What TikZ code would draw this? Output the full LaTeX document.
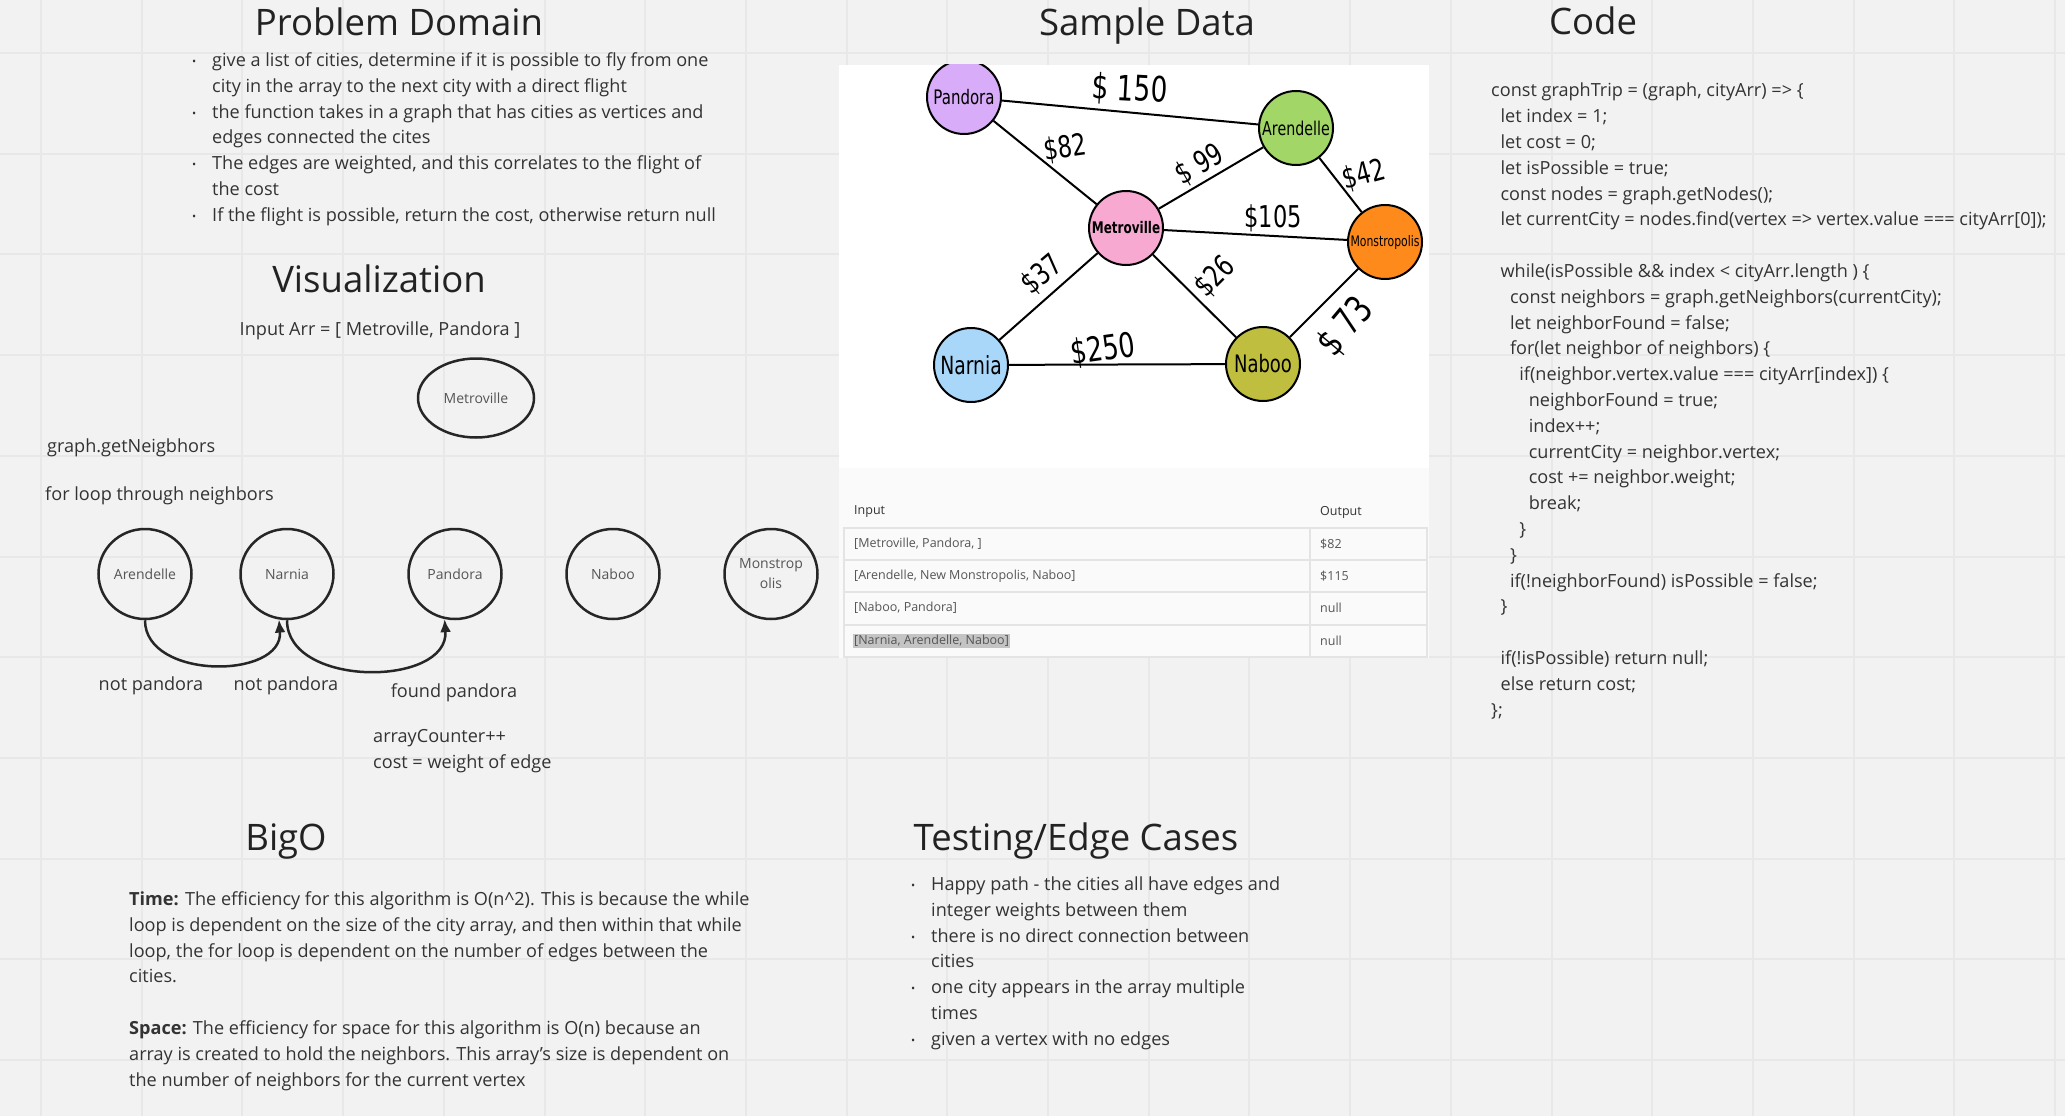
\documentclass[tikz,border=0pt]{standalone}
\usepackage{fontspec}
\setmainfont{Open Sans}
\newfontfamily\handfont{DejaVu Sans}[FakeStretch=0.75]
\usetikzlibrary{arrows.meta, positioning, shapes.geometric}

\definecolor{boardbg}{HTML}{F2F2F2}
\definecolor{gridline}{HTML}{E8E8E8}
\definecolor{ink}{HTML}{333333}
\definecolor{titleink}{HTML}{222222}
\definecolor{soft}{HTML}{555555}
\definecolor{tablebg}{HTML}{FAFAFA}
\definecolor{rulecol}{HTML}{E4E4E4}
\definecolor{marked}{HTML}{C4C4C4}
\definecolor{pandoraFill}{HTML}{D8ACF8}
\definecolor{arendelleFill}{HTML}{A2D666}
\definecolor{metroFill}{HTML}{F8A9D2}
\definecolor{monstroFill}{HTML}{FF8A1C}
\definecolor{narniaFill}{HTML}{A8D7FA}
\definecolor{nabooFill}{HTML}{BFBE3E}

\newcommand{\itembul}{\makebox[20pt][l]{\raisebox{1pt}{\fontsize{11}{11}\selectfont\textbullet}}}
\newcommand{\itemgap}{\hspace*{20pt}}
\newcommand{\codeindent}[1]{\hspace*{#1\dimexpr 9.4pt\relax}}

\begin{document}
\begin{tikzpicture}[x=1pt, y=-1pt,
    heading/.style={font=\fontsize{36.5}{44}\selectfont, text=titleink, inner sep=0pt},
    txt/.style={font=\fontsize{18.1}{25.8}\selectfont, text=ink, inner sep=0pt, align=left,
        execute at begin node=\strut, execute at end node=\strut},
    city/.style={draw=black!85, line width=2.5pt, ellipse, minimum width=93pt, minimum height=90pt,
        inner sep=0pt, font=\fontsize{14}{20}\selectfont, text=soft, align=center},
    vertex/.style={draw=black, line width=2pt, circle, minimum size=74pt, inner sep=0pt},
    edge/.style={draw=black, line width=2pt},
    cost/.style={font=\handfont\fontsize{30}{30}\selectfont, inner sep=0pt},
    cell/.style={font=\fontsize{12.5}{16}\selectfont, text=soft, inner sep=0pt, anchor=west},
    arrow/.style={-{Latex[length=13pt, width=11pt]}, line width=2.5pt, draw=black!85}
]
\useasboundingbox (0,0) rectangle (2065,1116);

% Board
\fill[boardbg] (0,0) rectangle (2065,1116);
\draw[gridline, line width=2pt, shift={(41,53)}] (-41,1063) grid[step=100.7pt] (2024,-53);

% Problem Domain
\node[heading, anchor=base] (pdTitle) at (399,36) {Problem Domain};
\node[txt, anchor=north west] (pdList) at (192,52.5) {\itembul give a list of cities, determine if it is possible to fly from one\\
\itemgap city in the array to the next city with a direct flight\\
\itembul the function takes in a graph that has cities as vertices and\\
\itemgap edges connected the cites\\
\itembul The edges are weighted, and this correlates to the flight of\\
\itemgap the cost\\
\itembul If the flight is possible, return the cost, otherwise return null};

% Visualization
\node[heading, anchor=base] (vizTitle) at (379,292) {Visualization};
\node[txt] (inputArr) at (380,330) {Input Arr = [ Metroville, Pandora ]};
\node[city, minimum width=116pt, minimum height=79pt] (vMetro) at (476,398) {Metroville};
\node[txt, anchor=west] (getNb) at (47,447) {graph.getNeigbhors};
\node[txt, anchor=west] (forLoop) at (45,495) {for loop through neighbors};

\node[city] (vArendelle) at (145,574) {Arendelle};
\node[city] (vNarnia) at (287,574) {Narnia};
\node[city] (vPandora) at (455,574) {Pandora};
\node[city] (vNaboo) at (613,574) {Naboo};
\node[city] (vMonstro) at (771,574) {Monstrop\\olis};

\draw[arrow] (vArendelle.south) .. controls +(0,60) and +(5,60) .. (vNarnia.-100);
\draw[arrow] (vNarnia.south) .. controls +(0,68) and +(5,68) .. (vPandora.-103);

\node[txt] (notA) at (151,685) {not pandora};
\node[txt] (notB) at (286,685) {not pandora};
\node[txt] (foundP) at (454,692) {found pandora};
\node[txt, anchor=north west] (counter) at (373,729) {arrayCounter++\\cost = weight of edge};

% Sample Data
\node[heading, anchor=base] (sdTitle) at (1147,36) {Sample Data};
\fill[white] (839,65) rectangle (1429,468);
\fill[tablebg] (839,468) rectangle (1429,658);

\begin{scope}
\clip (839,65) rectangle (1429,468);
\node[vertex, fill=pandoraFill, font=\handfont\fontsize{20}{20}\selectfont] (pandora) at (964,97) {Pandora};
\node[vertex, fill=arendelleFill, font=\handfont\fontsize{19}{20}\selectfont] (arendelle) at (1296,128) {Arendelle};
\node[vertex, fill=metroFill, font=\handfont\bfseries\fontsize{16}{20}\selectfont] (metroville) at (1126,228) {Metroville};
\node[vertex, fill=monstroFill, font=\handfont\fontsize{14.5}{20}\selectfont] (monstropolis) at (1385,242) {Monstropolis};
\node[vertex, fill=narniaFill, font=\handfont\fontsize{25}{25}\selectfont] (narnia) at (971,365) {Narnia};
\node[vertex, fill=nabooFill, font=\handfont\fontsize{24}{24}\selectfont] (naboo) at (1263,364) {Naboo};

\draw[edge] (pandora) -- (arendelle);
\draw[edge] (pandora) -- (metroville);
\draw[edge] (metroville) -- (arendelle);
\draw[edge] (arendelle) -- (monstropolis);
\draw[edge] (metroville) -- (monstropolis);
\draw[edge] (metroville) -- (narnia);
\draw[edge] (metroville) -- (naboo);
\draw[edge] (narnia) -- (naboo);
\draw[edge] (naboo) -- (monstropolis);

\node[cost, font=\handfont\fontsize{35}{35}\selectfont, rotate=-3] (c150) at (1130,90) {\$ 150};
\node[cost, rotate=8] (c82) at (1065,148) {\$82};
\node[cost, rotate=30] (c99) at (1200,165) {\$ 99};
\node[cost, rotate=15] (c42) at (1364,175) {\$42};
\node[cost] (c105) at (1273,218) {\$105};
\node[cost, rotate=40] (c37) at (1042,275) {\$37};
\node[cost, rotate=45] (c26) at (1215,277) {\$26};
\node[cost, font=\handfont\fontsize{34}{34}\selectfont, rotate=8] (c250) at (1103,350) {\$250};
\node[cost, font=\handfont\fontsize{38}{38}\selectfont, rotate=50] (c73) at (1346,327) {\$ 73};
\end{scope}

% Table
\node[cell, text=ink] (hIn) at (854,512) {Input};
\node[cell, text=ink] (hOut) at (1320,512) {Output};
\draw[rulecol, line width=2pt] (844,528) rectangle (1427,657);
\draw[rulecol, line width=2pt] (1310,528) -- (1310,657);
\draw[rulecol, line width=2pt] (844,560) -- (1427,560) (844,592) -- (1427,592) (844,625) -- (1427,625);
\node[cell] (r1in) at (854,544) {[Metroville, Pandora, ]};
\node[cell] (r1out) at (1320,544) {\$82};
\node[cell] (r2in) at (854,576) {[Arendelle, New Monstropolis, Naboo]};
\node[cell] (r2out) at (1320,576) {\$115};
\node[cell] (r3in) at (854,608) {[Naboo, Pandora]};
\node[cell] (r3out) at (1320,608) {null};
\node[cell, fill=marked, inner sep=1.5pt] (r4in) at (852.5,641) {[Narnia, Arendelle, Naboo]};
\node[cell] (r4out) at (1320,641) {null};

% Code
\node[heading, anchor=base] (codeTitle) at (1593,35) {Code};
\node[txt, anchor=north west] (code) at (1491,83) {const graphTrip = (graph, cityArr) => \{\\
\codeindent{1}let index = 1;\\
\codeindent{1}let cost = 0;\\
\codeindent{1}let isPossible = true;\\
\codeindent{1}const nodes = graph.getNodes();\\
\codeindent{1}let currentCity = nodes.find(vertex => vertex.value === cityArr[0]);\\
\mbox{}\\
\codeindent{1}while(isPossible \&\& index < cityArr.length ) \{\\
\codeindent{2}const neighbors = graph.getNeighbors(currentCity);\\
\codeindent{2}let neighborFound = false;\\
\codeindent{2}for(let neighbor of neighbors) \{\\
\codeindent{3}if(neighbor.vertex.value === cityArr[index]) \{\\
\codeindent{4}neighborFound = true;\\
\codeindent{4}index++;\\
\codeindent{4}currentCity = neighbor.vertex;\\
\codeindent{4}cost += neighbor.weight;\\
\codeindent{4}break;\\
\codeindent{3}\}\\
\codeindent{2}\}\\
\codeindent{2}if(!neighborFound) isPossible = false;\\
\codeindent{1}\}\\
\mbox{}\\
\codeindent{1}if(!isPossible) return null;\\
\codeindent{1}else return cost;\\
\};};

% BigO
\node[heading, anchor=base] (bigoTitle) at (286,850) {BigO};
\node[txt, anchor=north west] (bigoText) at (129,891.5) {\textbf{Time:} The efficiency for this algorithm is O(n\textasciicircum 2). This is because the while\\
loop is dependent on the size of the city array, and then within that while\\
loop, the for loop is dependent on the number of edges between the\\
cities.\\
\mbox{}\\
\textbf{Space:} The efficiency for space for this algorithm is O(n) because an\\
array is created to hold the neighbors. This array's size is dependent on\\
the number of neighbors for the current vertex};

% Testing/Edge Cases
\node[heading, anchor=base] (testTitle) at (1076,850) {Testing/Edge Cases};
\node[txt, anchor=north west] (testList) at (911,876.5) {\itembul Happy path - the cities all have edges and\\
\itemgap integer weights between them\\
\itembul there is no direct connection between\\
\itemgap cities\\
\itembul one city appears in the array multiple\\
\itemgap times\\
\itembul given a vertex with no edges};

\end{tikzpicture}
\end{document}
